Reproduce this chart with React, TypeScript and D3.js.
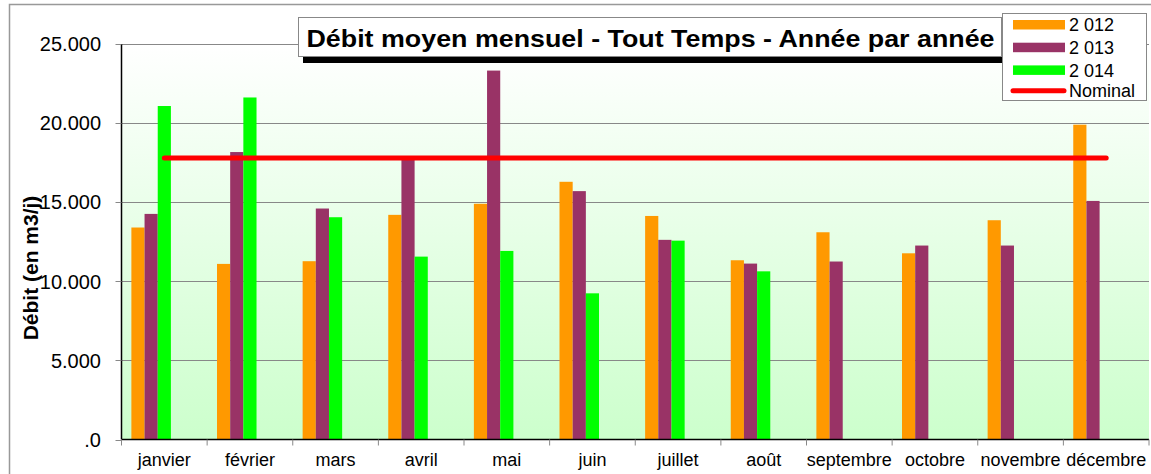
import * as d3 from 'd3';

const months = ['janvier', 'février', 'mars', 'avril', 'mai', 'juin', 'juillet', 'août', 'septembre', 'octobre', 'novembre', 'décembre'];
const seriesNames = ['2 012', '2 013', '2 014'];
const v2012 = [13400, 11100, 11270, 14200, 14900, 16290, 14130, 11330, 13100, 11770, 13860, 19900];
const v2013 = [14260, 18170, 14600, 17850, 23320, 15700, 12620, 11120, 11250, 12260, 12260, 15080];
const v2014: (number | null)[] = [21080, 21620, 14050, 11560, 11920, 9240, 12570, 10630, null, null, null, null];
const nominal = [17800, 17800, 17800, 17800, 17800, 17800, 17800, 17800, 17800, 17800, 17800, 17800];
const yTicks = [0, 5000, 10000, 15000, 20000, 25000];
const yTickLabels = ['.0', '5.000', '10.000', '15.000', '20.000', '25.000'];

const colors = ['#FF9900', '#993366', '#00FF00'];
const FONT = 'Arial, "Liberation Sans", sans-serif';

export default function App() {
  const W = 1151;
  const H = 474;
  const left = 121.5;
  const right = 1149;
  const top = 44;
  const bottom = 439.5;

  const x0 = d3.scaleBand().domain(months).range([left, right]).paddingInner(0).paddingOuter(0);
  // Excel keeps 5 slots per cluster (2 empty), gap 150%
  const x1 = d3
    .scaleBand()
    .domain(['2012', '2013', '2014', 's4', 's5'])
    .range([0, x0.bandwidth()])
    .paddingInner(0)
    .paddingOuter(0.75);
  const y = d3.scaleLinear().domain([0, 25000]).range([bottom, top]);

  const series = [v2012, v2013, v2014];
  const keys = ['2012', '2013', '2014'];

  const line = d3
    .line<number>()
    .x((_, i) => (x0(months[i]) || 0) + x0.bandwidth() / 2)
    .y((d) => y(d));

  return (
    <div style={{ position: 'fixed', left: 0, top: 0 }}>
      <svg width={W} height={H} style={{ display: 'block', background: '#fff' }} fontFamily={FONT}>
        <defs>
          <linearGradient id="bg" x1="0" y1="0" x2="0" y2="1">
            <stop offset="0" stopColor="#FFFFFF" />
            <stop offset="1" stopColor="#CCFFCC" />
          </linearGradient>
        </defs>

        {/* chart area border */}
        <rect x={9.5} y={4.5} width={1200} height={520} fill="none" stroke="#999" strokeWidth={1.5} />

        {/* plot area */}
        <rect x={left} y={top} width={right - left} height={bottom - top} fill="url(#bg)" />

        {/* grid lines */}
        {yTicks.slice(1).map((t) => (
          <line key={t} x1={left} x2={right} y1={Math.round(y(t)) + 0.5} y2={Math.round(y(t)) + 0.5} stroke="#888" strokeWidth={1} />
        ))}

        {/* bars */}
        {series.map((vals, si) =>
          vals.map((v, mi) =>
            v == null ? null : (
              <rect
                key={`${si}-${mi}`}
                x={(x0(months[mi]) || 0) + (x1(keys[si]) || 0)}
                y={y(v)}
                width={x1.bandwidth()}
                height={bottom - y(v)}
                fill={colors[si]}
              />
            )
          )
        )}

        {/* nominal line */}
        <path d={line(nominal) || ''} fill="none" stroke="#FF0000" strokeWidth={5} strokeLinecap="round" />

        {/* y axis */}
        <line x1={left} x2={left} y1={top} y2={bottom} stroke="#000" strokeWidth={1.5} />
        {yTicks.map((t, i) => (
          <g key={t}>
            <line x1={left - 6} x2={left} y1={Math.round(y(t)) + 0.5} y2={Math.round(y(t)) + 0.5} stroke="#888" />
            <text x={101} y={y(t)} dy="0.36em" textAnchor="end" fontSize={20} fill="#000">
              {yTickLabels[i]}
            </text>
          </g>
        ))}

        {/* x axis */}
        <line x1={left} x2={right} y1={bottom} y2={bottom} stroke="#000" strokeWidth={1.5} />
        {[...months.map((m) => x0(m) || 0), right].map((px, i) => (
          <line key={i} x1={px} x2={px} y1={bottom} y2={bottom + 6} stroke="#888" />
        ))}
        {months.map((m) => (
          <text key={m} x={(x0(m) || 0) + x0.bandwidth() / 2} y={466} textAnchor="middle" fontSize={18} fill="#000">
            {m}
          </text>
        ))}

        {/* y title */}
        <text
          transform={`translate(38,268) rotate(-90)`}
          textAnchor="middle"
          fontSize={21}
          fontWeight="bold"
          fill="#000"
        >
          Débit (en m3/j)
        </text>

        {/* title */}
        <rect x={303} y={23} width={699} height={40} fill="#000" />
        <rect x={298.5} y={17.5} width={703} height={39} fill="#fff" stroke="#888" />
        <text x={306.5} y={46.5} fontSize={24} fontWeight="bold" fill="#000" textLength={688} lengthAdjust="spacingAndGlyphs">
          Débit moyen mensuel - Tout Temps - Année par année
        </text>

        {/* legend */}
        <rect x={1002.5} y={13.5} width={144} height={87} fill="#fff" stroke="#888" />
        {seriesNames.map((n, i) => (
          <g key={n}>
            <rect x={1013} y={20 + i * 22.7} width={52} height={9.5} fill={colors[i]} />
            <text x={1069} y={24.7 + i * 22.7} dy="0.36em" fontSize={18} fill="#000">
              {n}
            </text>
          </g>
        ))}
        <line x1={1013} x2={1064} y1={90.7} y2={90.7} stroke="#FF0000" strokeWidth={5} strokeLinecap="round" />
        <text x={1069} y={90.7} dy="0.36em" fontSize={18} fill="#000">
          Nominal
        </text>
      </svg>
    </div>
  );
}
